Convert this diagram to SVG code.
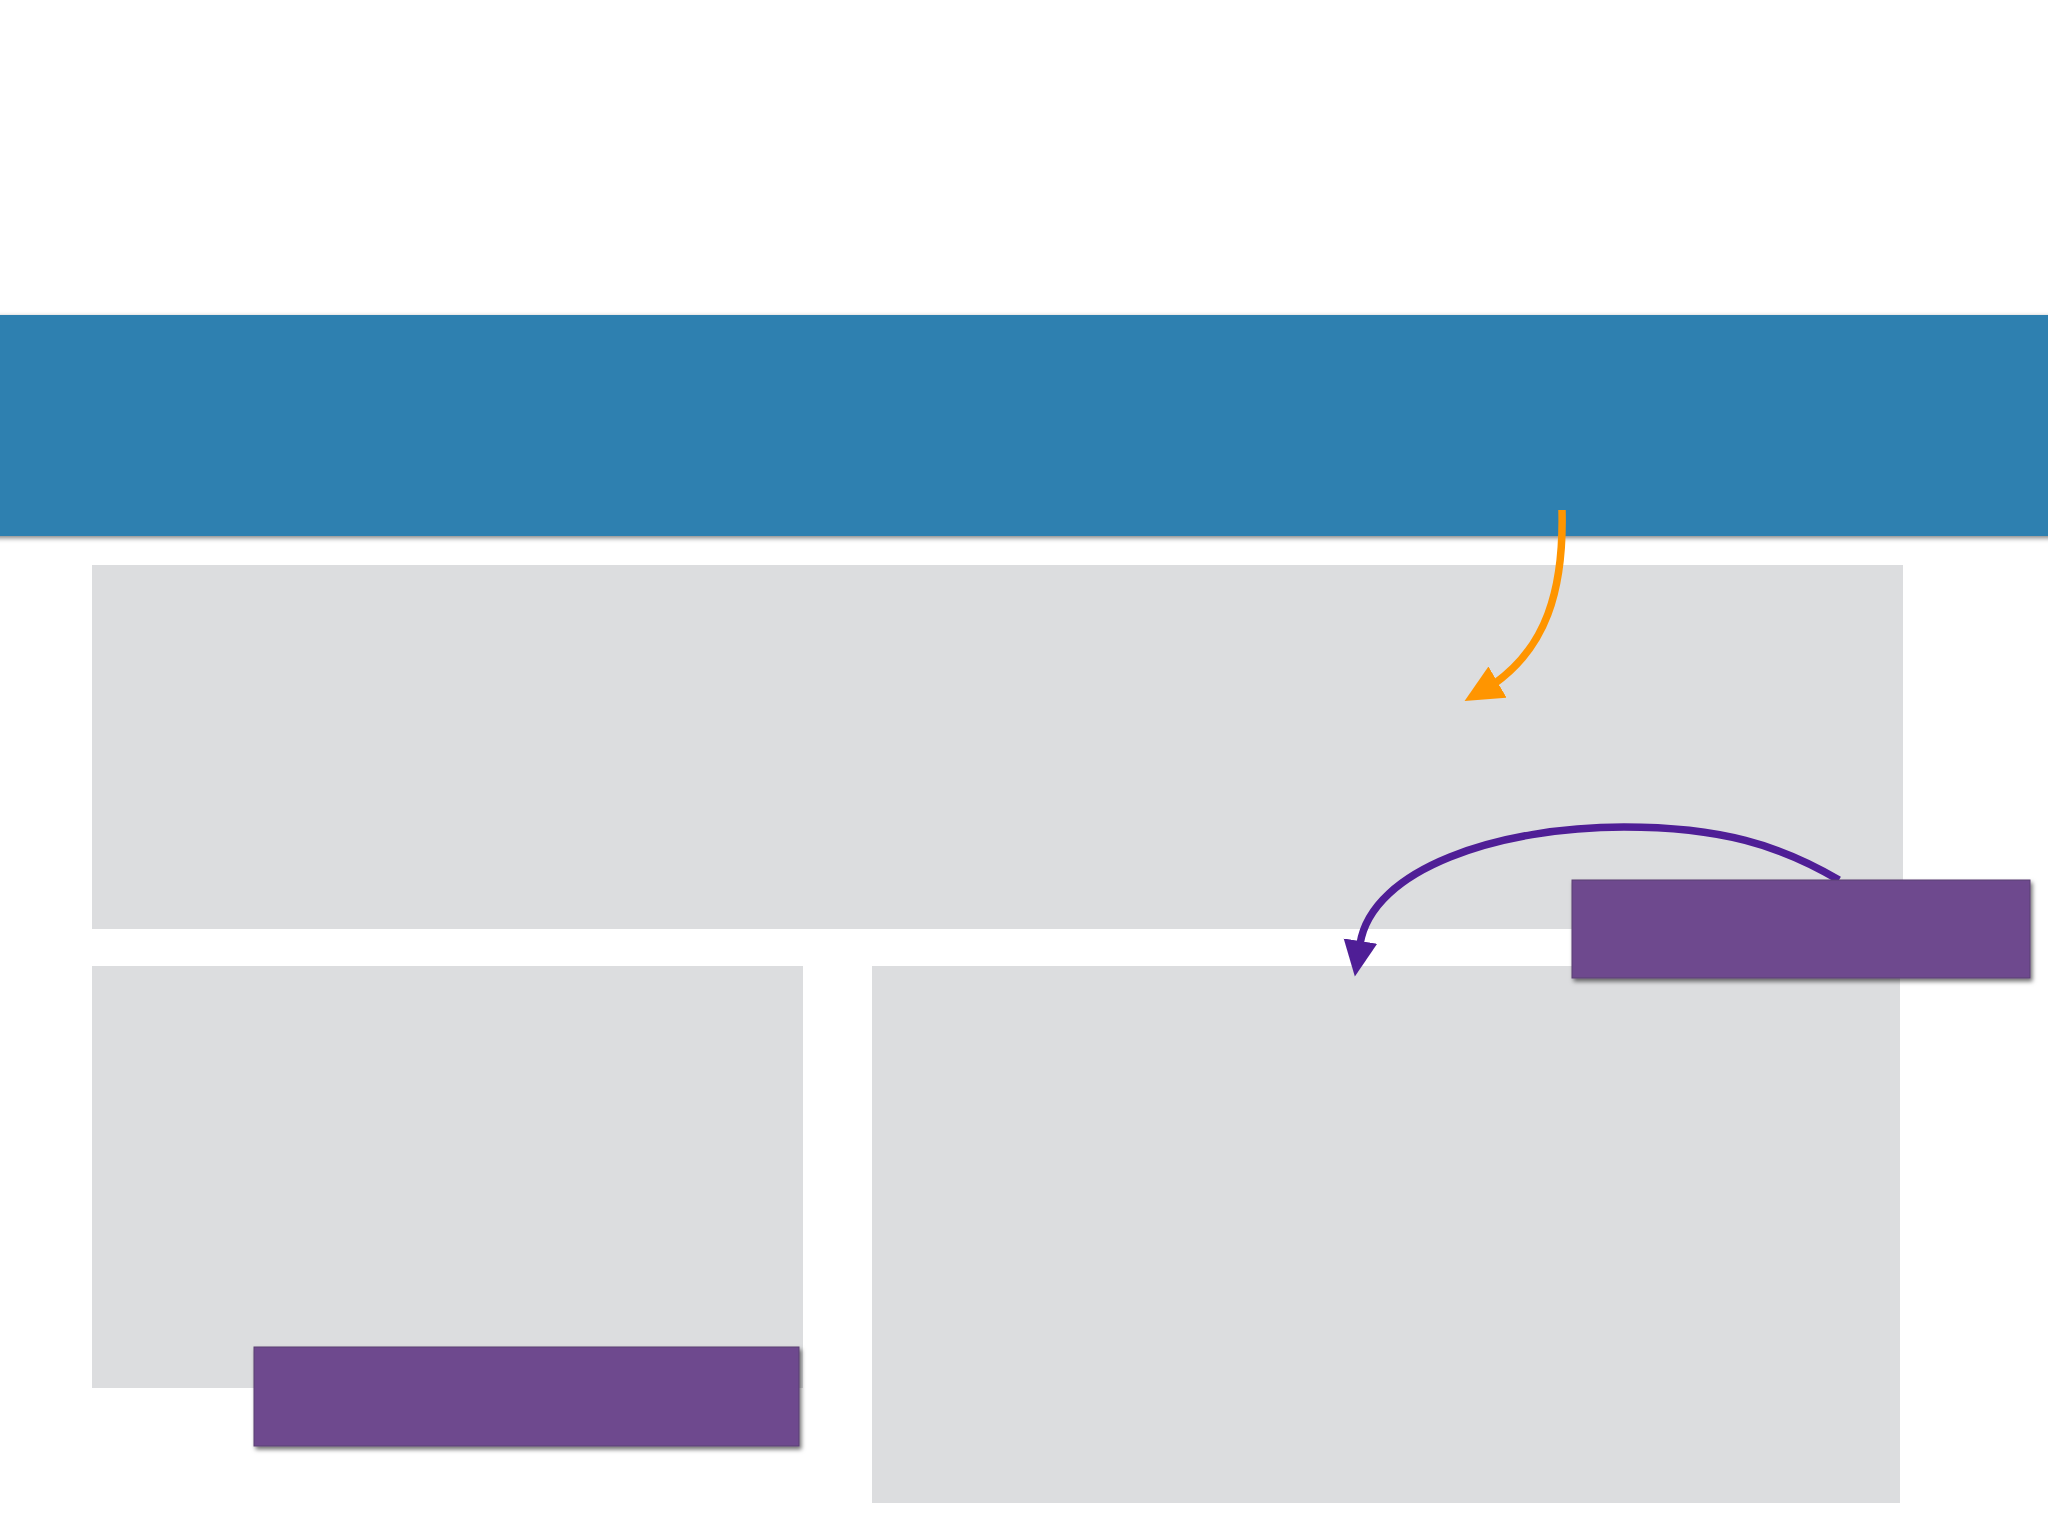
<svg xmlns="http://www.w3.org/2000/svg" width="2048" height="1536" viewBox="0 0 2048 1536">
<defs>
<style>
.panel{fill:#dcdddf}
.tag{fill:#6e4a8e;stroke:#5a3f72;stroke-width:1;filter:url(#sh)}
.band{fill:#2e80b0;filter:url(#sh2)}
.conn{fill:none;stroke-width:7.5}
</style>
<filter id="sh" x="-5%" y="-20%" width="110%" height="140%">
<feDropShadow dx="2" dy="3" stdDeviation="2" flood-color="#000" flood-opacity="0.55"/>
</filter>
<filter id="sh2" x="-5%" y="-10%" width="110%" height="120%">
<feDropShadow dx="0" dy="2" stdDeviation="2.5" flood-color="#000" flood-opacity="0.5"/>
</filter>
<marker id="ahO" markerUnits="userSpaceOnUse" markerWidth="42" markerHeight="42" refX="4" refY="18" orient="150">
<path d="M0,0 L38,18 L0,36 z" fill="#ff9500"/>
</marker>
<marker id="ahP" markerUnits="userSpaceOnUse" markerWidth="42" markerHeight="42" refX="3" refY="17" orient="auto">
<path d="M0,0 L36,17 L0,34 z" fill="#4f1e96"/>
</marker>
</defs>
<rect width="2048" height="1536" fill="#ffffff"/>
<g id="header"><rect class="band" x="-10" y="315" width="2068" height="221"/></g>
<g id="panel-top"><rect class="panel" x="92" y="565" width="1811" height="364"/></g>
<g id="panel-bottom-left"><rect class="panel" x="92" y="966" width="711" height="422"/></g>
<g id="panel-bottom-right"><rect class="panel" x="872" y="966" width="1028" height="537"/></g>
<g id="connectors">
<path class="conn" stroke="#ff9500" d="M1562,510 C1564,592 1545,648 1494,684" marker-end="url(#ahO)"/>
<path class="conn" stroke="#4f1e96" d="M1839,880 C1780,845 1720,827 1624,827 C1500,827 1372,868 1360,944" marker-end="url(#ahP)"/>
</g>
<g id="tag-right"><rect class="tag" x="1572" y="880" width="458" height="98"/></g>
<g id="tag-left"><rect class="tag" x="254" y="1347" width="545" height="99"/></g>
</svg>
